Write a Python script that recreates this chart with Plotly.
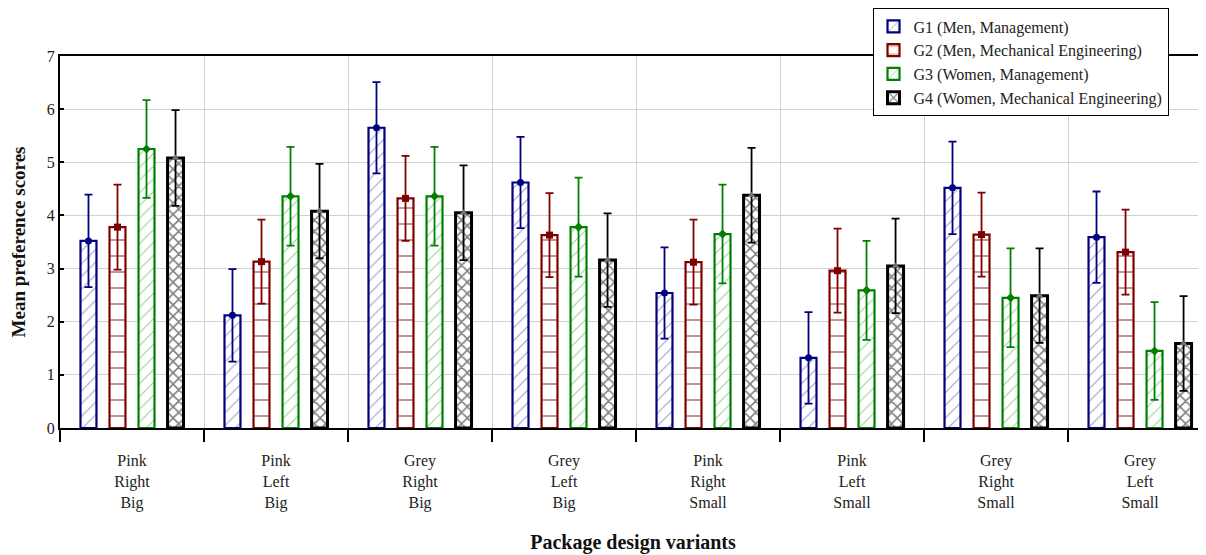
import plotly.graph_objects as go

categories = ["Pink<br>Right<br>Big", "Pink<br>Left<br>Big", "Grey<br>Right<br>Big", "Grey<br>Left<br>Big",
              "Pink<br>Right<br>Small", "Pink<br>Left<br>Small", "Grey<br>Right<br>Small", "Grey<br>Left<br>Small"]

g1_mean = [3.52, 2.12, 5.65, 4.62, 2.54, 1.32, 4.52, 3.59]
g2_mean = [3.78, 3.13, 4.32, 3.63, 3.12, 2.96, 3.64, 3.31]
g3_mean = [5.25, 4.36, 4.36, 3.78, 3.65, 2.59, 2.45, 1.45]
g4_mean = [5.08, 4.08, 4.05, 3.16, 4.38, 3.05, 2.49, 1.59]

g1_err = [0.87, 0.87, 0.86, 0.86, 0.86, 0.86, 0.87, 0.86]
g2_err = [0.80, 0.79, 0.80, 0.79, 0.80, 0.79, 0.79, 0.80]
g3_err = [0.92, 0.93, 0.93, 0.93, 0.93, 0.93, 0.93, 0.92]
g4_err = [0.90, 0.89, 0.89, 0.88, 0.89, 0.89, 0.89, 0.89]

names = ["G1 (Men, Management)", "G2 (Men, Mechanical Engineering)",
         "G3 (Women, Management)", "G4 (Women, Mechanical Engineering)"]

means = [g1_mean, g2_mean, g3_mean, g4_mean]
errs = [g1_err, g2_err, g3_err, g4_err]
line_colors = ["#000080", "#800000", "#008000", "#000000"]
line_widths = [2.2, 2.2, 2.2, 3]
pattern_shapes = ["/", "-", "/", "x"]
pattern_colors = ["#3a3aa8", "#8c1c1c", "#30a030", "#000000"]
pattern_sizes = [9, 16, 9, 8]
pattern_solid = [0.12, 0.12, 0.12, 0.35]
marker_symbols = ["circle", "square", "diamond", "triangle-up"]
marker_colors = ["#000080", "#800000", "#008000", "#707070"]

FONT = "Liberation Serif"

fig = go.Figure()
for i in range(4):
    fig.add_trace(go.Bar(
        x=categories, y=means[i], name=names[i], offsetgroup=str(i), legendgroup=str(i),
        marker=dict(color="white",
                    line=dict(color=line_colors[i], width=line_widths[i]),
                    pattern=dict(shape=pattern_shapes[i], fgcolor=pattern_colors[i],
                                 bgcolor="white", size=pattern_sizes[i],
                                 solidity=pattern_solid[i], fillmode="overlay")),
    ))
for i in range(4):
    fig.add_trace(go.Scatter(
        x=categories, y=means[i], mode="markers", offsetgroup=str(i), legendgroup=str(i),
        showlegend=False,
        marker=dict(symbol=marker_symbols[i], color=marker_colors[i], size=7),
        error_y=dict(type="data", array=errs[i], visible=True, color=line_colors[i],
                     thickness=1.8, width=4),
    ))

# page body has an 8px margin, so the figure is offset by (8, 8)
fig.update_layout(
    width=1198, height=547,
    margin=dict(l=52, r=0, t=45, b=127),
    paper_bgcolor="white", plot_bgcolor="white",
    barmode="group", bargap=0.194, bargroupgap=0.45,
    scattermode="group", scattergap=0.194,
    font=dict(family=FONT, size=15, color="#222222"),
    showlegend=True,
    legend=dict(x=0.709, y=1.128, xanchor="left", yanchor="top",
                bgcolor="white", bordercolor="black", borderwidth=1,
                font=dict(family=FONT, size=16, color="#222222"),
                tracegroupgap=0, itemwidth=30),
)
fig.update_xaxes(
    range=[-0.5, 7.458], type="category",
    showline=True, linecolor="black", linewidth=2, mirror=True,
    ticks="outside", ticklen=12, tickwidth=2, tickcolor="black", tickson="boundaries",
    showgrid=True, gridcolor="#d0d0d0", gridwidth=1,
    tickfont=dict(family=FONT, size=16, color="#222222"),
    ticklabelstandoff=17,
    title=dict(text="<b>Package design variants</b>", font=dict(family=FONT, size=20, color="#111111"),
               standoff=24),
)
fig.update_yaxes(
    range=[0, 7], dtick=1,
    showline=True, linecolor="black", linewidth=2,
    ticks="inside", ticklen=4, tickwidth=2, tickcolor="black",
    showgrid=True, gridcolor="#d0d0d0", gridwidth=1, zeroline=False,
    tickfont=dict(family=FONT, size=16, color="#222222"),
    title=dict(text="<b>Mean preference scores</b>", font=dict(family=FONT, size=19, color="#111111"),
               standoff=16),
)

fig.write_html("out.html")
